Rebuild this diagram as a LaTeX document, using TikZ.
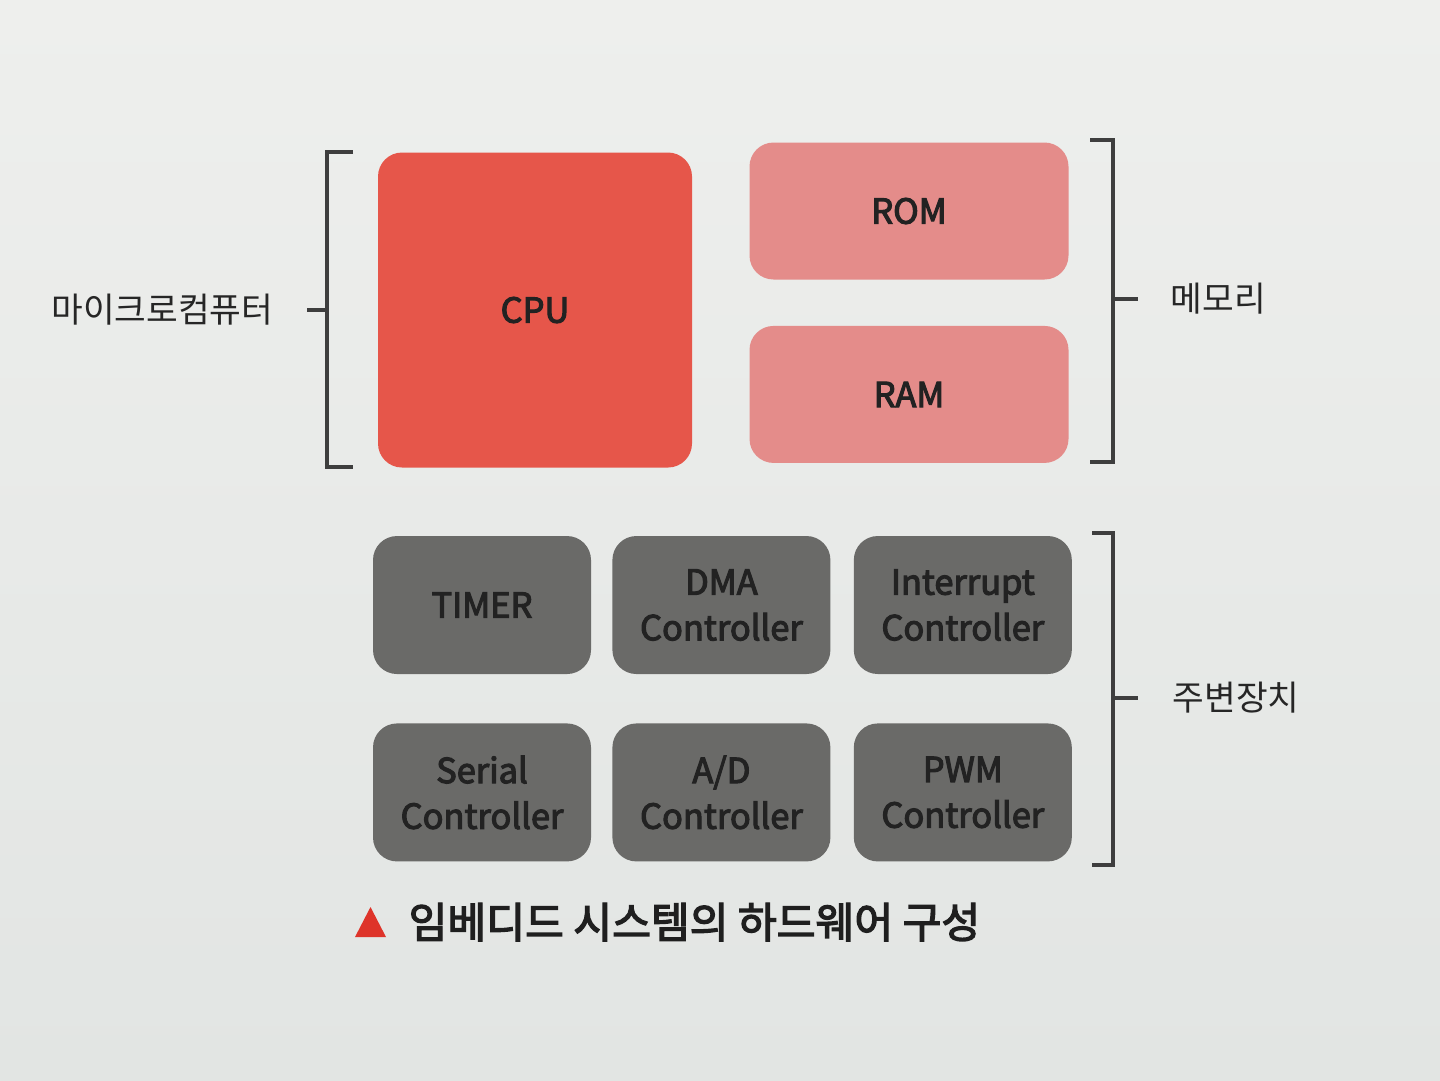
\documentclass[tikz,border=0pt]{standalone}
\usepackage{fontspec}
\setmainfont{Noto Sans CJK KR}
\newfontfamily\medfont[FakeBold=3.2]{Noto Sans CJK KR}
\usepackage{xcolor}
\usepackage{tikz}
\usetikzlibrary{positioning,calc}
\definecolor{cpured}{RGB}{230,86,74}
\definecolor{mempink}{RGB}{228,140,138}
\definecolor{pergray}{RGB}{106,106,104}
\definecolor{boxtext}{RGB}{34,34,34}
\definecolor{papertop}{RGB}{238,239,237}
\definecolor{paperbot}{RGB}{226,229,227}
\definecolor{brkgray}{RGB}{62,62,62}
\definecolor{capred}{RGB}{222,52,42}
\tikzset{
  hwbox/.style={rounded corners=2.4mm, align=center, text=boxtext, inner sep=0pt,
               font=\medfont\fontsize{9.8}{13}\selectfont},
  cpubox/.style={hwbox, fill=cpured, minimum width=31.4mm, minimum height=31.5mm},
  membox/.style={hwbox, fill=mempink, minimum width=31.9mm, minimum height=13.7mm},
  perbox/.style={hwbox, fill=pergray, minimum width=21.8mm, minimum height=13.8mm},
  brk/.style={draw=brkgray, line width=1.1pt},
  sidelbl/.style={font=\fontsize{9.8}{12}\selectfont, text=black!85, inner sep=0pt},
  caplbl/.style={font=\medfont\fontsize{12}{14}\selectfont, text=black!88, inner sep=0pt},
}
\begin{document}
\begin{tikzpicture}[x=0.1mm, y=-0.1mm]
  \useasboundingbox (0,0) rectangle (1440,1080);
  \shade[top color=papertop, bottom color=paperbot] (0,0) rectangle (1440,1080);

  % microcomputer
  \node[cpubox] (cpu) at (535,310) {CPU};
  \node[membox] (rom) at (909,211) {ROM};
  \node[membox, below=4.5mm of rom] (ram) {RAM};

  % peripherals
  \node[perbox] (timer) at (482,605) {TIMER};
  \node[perbox, right=2mm of timer] (dma) {DMA\\ Controller};
  \node[perbox, right=2.2mm of dma] (irq) {Interrupt\\ Controller};
  \node[perbox, below=4.8mm of timer] (serial) {Serial\\ Controller};
  \node[perbox, right=2mm of serial] (adc) {A/D\\ Controller};
  \node[perbox, right=2.2mm of adc] (pwm) {PWM\\ Controller};

  % brackets
  \draw[brk] (353,152) -- (327,152) -- (327,467) -- (353,467);
  \coordinate (mcutip) at (307,310);
  \draw[brk] (327,310) -- (mcutip);
  \node[sidelbl, left=3.3mm of mcutip] (mcu) {마이크로컴퓨터};

  \draw[brk] (1090,140) -- (1113,140) -- (1113,462) -- (1090,462);
  \coordinate (memtip) at (1138,299);
  \draw[brk] (1113,299) -- (memtip);
  \node[sidelbl, right=3.2mm of memtip] (memlbl) {메모리};

  \draw[brk] (1092,533) -- (1113,533) -- (1113,865) -- (1092,865);
  \coordinate (pertip) at (1138,698);
  \draw[brk] (1113,698) -- (pertip);
  \node[sidelbl, right=3.4mm of pertip] (perlbl) {주변장치};

  % caption
  \node[caplbl, anchor=west] (cap) at (408,922) {임베디드 시스템의 하드웨어 구성};
  \fill[capred] (355,937) -- (386,937) -- (370.5,907) -- cycle;
\end{tikzpicture}
\end{document}
